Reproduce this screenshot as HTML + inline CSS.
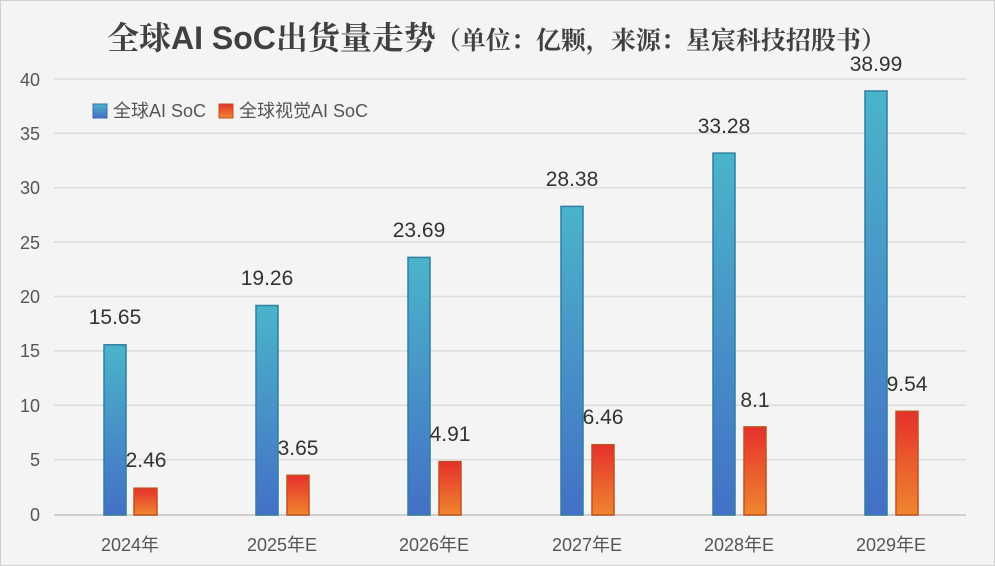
<!DOCTYPE html>
<html><head><meta charset="utf-8"><style>
body{margin:0;width:995px;height:566px;overflow:hidden;background:#f4f4f4;font-family:"Liberation Sans","Noto Sans CJK SC",sans-serif;}
</style></head><body>
<svg width="995" height="566" xmlns="http://www.w3.org/2000/svg" style="position:absolute;left:0;top:0">
<defs>
<linearGradient id="b" x1="0" y1="0" x2="0" y2="1"><stop offset="0" stop-color="#4ab4ca"/><stop offset="1" stop-color="#4470c6"/></linearGradient>
<linearGradient id="r" x1="0" y1="0" x2="0" y2="1"><stop offset="0" stop-color="#e5302d"/><stop offset="1" stop-color="#f0862e"/></linearGradient>
</defs>
<rect x="0.5" y="0.5" width="994" height="565" fill="#f4f4f4" stroke="#d0d0d0"/>
<g stroke="#dcdcdc" stroke-width="1.5">
<line x1="54" x2="966" y1="79" y2="79"/><line x1="54" x2="966" y1="133.4" y2="133.4"/><line x1="54" x2="966" y1="187.8" y2="187.8"/><line x1="54" x2="966" y1="242.1" y2="242.1"/><line x1="54" x2="966" y1="296.5" y2="296.5"/><line x1="54" x2="966" y1="350.9" y2="350.9"/><line x1="54" x2="966" y1="405.3" y2="405.3"/><line x1="54" x2="966" y1="459.6" y2="459.6"/>
</g>
<line x1="54" x2="966" y1="515" y2="515" stroke="#cfcfcf" stroke-width="2"/>
<g font-size="18" fill="#555" text-anchor="end">
<text x="40" y="86">40</text><text x="40" y="140">35</text><text x="40" y="194">30</text><text x="40" y="249">25</text><text x="40" y="303">20</text><text x="40" y="357">15</text><text x="40" y="412">10</text><text x="40" y="466">5</text><text x="40" y="521">0</text>
</g>
<text x="107" y="49" fill="#404040" font-family="'Noto Serif CJK SC','Liberation Serif',serif"><tspan font-size="32" font-weight="bold">全球<tspan font-family="'Liberation Sans',sans-serif">AI SoC</tspan>出货量走势</tspan><tspan font-size="25" font-weight="bold">（单位：亿颗，来源：星宸科技招股书）</tspan></text>
<rect x="93" y="104" width="14" height="14" fill="url(#b)" stroke="#3a6cb0"/>
<text x="113" y="117" font-size="18" fill="#555">全球AI SoC</text>
<rect x="219" y="104" width="14" height="14" fill="url(#r)" stroke="#c0501e"/>
<text x="239" y="117" font-size="18" fill="#555">全球视觉AI SoC</text>
<g font-size="21" fill="#333" text-anchor="middle" stroke-width="1.5">
<rect x="104" y="344.8" width="22" height="170.2" fill="url(#b)" stroke="#2f7fa0"/><rect x="134" y="488.2" width="23" height="26.8" fill="url(#r)" stroke="#c0501e"/>
<text x="115" y="324" stroke="none">15.65</text><text x="146" y="467" stroke="none">2.46</text>
<rect x="256" y="305.5" width="22" height="209.5" fill="url(#b)" stroke="#2f7fa0"/><rect x="287" y="475.3" width="22" height="39.7" fill="url(#r)" stroke="#c0501e"/>
<text x="267" y="285" stroke="none">19.26</text><text x="298" y="455" stroke="none">3.65</text>
<rect x="408" y="257.4" width="22" height="257.6" fill="url(#b)" stroke="#2f7fa0"/><rect x="439" y="461.6" width="22" height="53.4" fill="url(#r)" stroke="#c0501e"/>
<text x="419" y="237" stroke="none">23.69</text><text x="450" y="441" stroke="none">4.91</text>
<rect x="561" y="206.4" width="22" height="308.6" fill="url(#b)" stroke="#2f7fa0"/><rect x="592" y="444.7" width="22" height="70.3" fill="url(#r)" stroke="#c0501e"/>
<text x="572" y="186" stroke="none">28.38</text><text x="603" y="424" stroke="none">6.46</text>
<rect x="713" y="153.1" width="22" height="361.9" fill="url(#b)" stroke="#2f7fa0"/><rect x="744" y="426.9" width="22" height="88.1" fill="url(#r)" stroke="#c0501e"/>
<text x="724" y="133" stroke="none">33.28</text><text x="755" y="407" stroke="none">8.1</text>
<rect x="865" y="91" width="22" height="424" fill="url(#b)" stroke="#2f7fa0"/><rect x="896" y="411.3" width="22" height="103.7" fill="url(#r)" stroke="#c0501e"/>
<text x="876" y="71" stroke="none">38.99</text><text x="907" y="391" stroke="none">9.54</text>
</g>
<g font-size="18" fill="#555" text-anchor="middle">
<text x="130" y="551">2024年</text><text x="282" y="551">2025年E</text><text x="434" y="551">2026年E</text><text x="587" y="551">2027年E</text><text x="739" y="551">2028年E</text><text x="891" y="551">2029年E</text>
</g>
</svg>
</body></html>
